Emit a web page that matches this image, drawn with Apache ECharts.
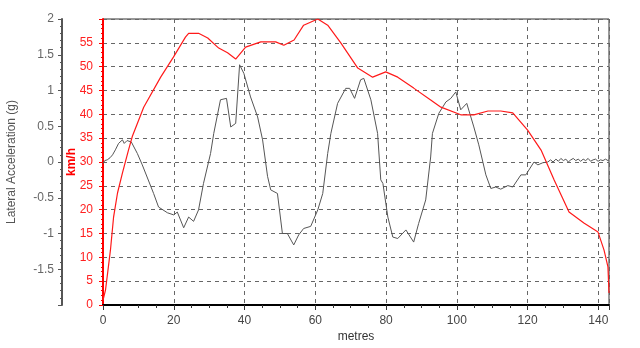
<!DOCTYPE html>
<html>
<head>
<meta charset="utf-8">
<script src="https://cdn.jsdelivr.net/npm/echarts@6/dist/echarts.min.js"></script>
<style>
  html, body { margin: 0; padding: 0; background: #fff; }
  #chart { width: 640px; height: 348px; }
</style>
</head>
<body>
<div id="chart"></div>
<script>
// speed trace (km/h) against distance (metres)
const speedDist = [0, 0.7, 1.3, 2.1, 3, 4.1, 5.5, 7.2, 8.3, 11.5, 16.3, 19.9, 23.3, 24.2, 27, 29.6,
  32.7, 35.2, 37.5, 40.3, 44.6, 48.8, 51.1, 54, 56.7, 60.7, 63.5, 67.2, 72, 76.2, 79.9, 83.3,
  87.8, 92.6, 95.5, 101.1, 104.8, 108.8, 112.4, 115.8, 120, 123.8, 127.5, 131.7, 135.9, 139.9,
  141.6, 142.7, 143];
const speedKmh = [1, 3.1, 6.7, 11.5, 18.5, 23.5, 27.7, 32.5, 35.4, 41.5, 47.8, 52, 56.2, 57, 57, 56,
  53.9, 52.9, 51.6, 54.1, 55.2, 55.2, 54.5, 55.6, 58.7, 60, 58.7, 55, 49.7, 47.8, 48.9, 47.8,
  45.5, 43, 41.5, 39.9, 39.9, 40.7, 40.7, 40.3, 36.7, 32.5, 26.2, 19.5, 17.2, 15.3,
  11.5, 8, 2.5];

// lateral acceleration (g) against distance (metres)
const latDist = [0, 0.5, 1.2, 2, 2.7, 3.5, 4.4, 5.5, 6, 6.8, 8, 9.7, 11.1, 14.3, 15.7, 18.2, 20, 21,
  22.8, 24.2, 25.6, 27, 28.4, 30.4, 31.3, 33.2, 34.9, 36.1, 37.5, 38.6, 39.8, 41.7, 43.7, 45.1,
  46.5, 47.4, 49.3, 50.7, 52.1, 53.9, 55.3, 56.7, 58.7, 60.7, 62.1, 63.5, 64.4, 66.3, 68.6, 69.7,
  71.1, 72.8, 73.7, 75.7, 77.6, 78.5, 79.1, 80.5, 81.9, 83.3, 85.6, 87.8, 89.2, 91.2, 92.6, 93.1,
  94.9, 96.9, 98.3, 99.7, 101.1, 102.8, 104.8, 106.2, 107.4, 108.2, 109.6, 111, 112.4, 114.4,
  115.8, 118.1, 119.5, 120.9, 121.8, 122.9, 124.3, 125.7, 126.5, 127.2, 128, 128.7, 129.4, 130.1,
  130.8, 131.5, 132.2, 132.9, 133.6, 134.3, 135, 135.7, 136.4, 137.1, 137.8, 138.5, 139.2, 139.9,
  140.6, 141.3, 142, 142.7, 143];
const latG = [-0.02, 0.02, 0.03, 0.06, 0.1, 0.17, 0.26, 0.31, 0.26, 0.3, 0.28, 0.12, -0.04, -0.44,
  -0.63, -0.71, -0.74, -0.7, -0.92, -0.77, -0.83, -0.67, -0.3, 0.12, 0.4, 0.87, 0.89, 0.49, 0.54,
  1.36, 1.24, 0.91, 0.63, 0.31, -0.2, -0.39, -0.44, -1, -1, -1.16, -1.02, -0.93, -0.9, -0.67,
  -0.44, 0.12, 0.4, 0.82, 1.03, 1.03, 0.89, 1.15, 1.17, 0.87, 0.4, -0.25, -0.3, -0.77, -1.05,
  -1.07, -0.95, -1.12, -0.86, -0.53, 0.07, 0.4, 0.68, 0.84, 0.89, 0.98, 0.73, 0.82, 0.49, 0.24,
  -0.01, -0.18, -0.37, -0.35, -0.38, -0.33, -0.35, -0.18, -0.18, -0.07, 0, -0.04, -0.01, 0,
  0.03, 0, 0.04, 0.01, 0.05, 0.02, 0.04, 0, 0.03, 0.05, 0.02, 0.04, 0.01, 0.04, 0.02, 0.05, 0.01,
  0.03, 0.04, 0.01, 0.03, 0.02, 0.04, 0.02, 0.03];

const speedData = speedDist.map((d, i) => [d, speedKmh[i]]);
const latData = latDist.map((d, i) => [d, latG[i]]);

const font = "'Liberation Sans', Arial, sans-serif";
const chart = echarts.init(document.getElementById('chart'));

chart.setOption({
  animation: false,
  grid: {
    left: 103, right: 31, top: 19, bottom: 43,
    outerBoundsMode: 'none',
    show: true, borderColor: '#333', borderWidth: 1
  },
  xAxis: {
    type: 'value',
    min: 0, max: 143, interval: 20,
    name: 'metres', nameLocation: 'middle', nameGap: 26, nameMoveOverlap: false,
    nameTextStyle: { color: '#333', fontSize: 12, fontFamily: font },
    axisLine: { lineStyle: { color: '#000', width: 2 } },
    axisTick: { length: 5, lineStyle: { color: '#333' } },
    minorTick: { show: true, splitNumber: 4, length: 3, lineStyle: { color: '#333' } },
    axisLabel: {
      color: '#444', fontSize: 12, fontFamily: font, margin: 10,
      formatter: v => (v % 20 === 0 ? String(v) : '')
    },
    splitLine: { show: true, lineStyle: { color: '#666', type: [4, 4], width: 1 } }
  },
  yAxis: [
    {
      type: 'value', position: 'left',
      min: 0, max: 60, interval: 5,
      name: 'km/h', nameLocation: 'middle', nameGap: 25, nameMoveOverlap: false,
      nameTextStyle: { color: '#ff0000', fontSize: 12, fontFamily: font, fontWeight: 'bold' },
      axisLine: { show: true, lineStyle: { color: '#ff0000', width: 2 } },
      axisTick: { length: 4, lineStyle: { color: '#ff0000' } },
      minorTick: { show: true, splitNumber: 5, length: 2, lineStyle: { color: '#ff0000' } },
      axisLabel: { color: '#ff2020', fontSize: 12, fontFamily: font, margin: 10, showMaxLabel: false },
      splitLine: { show: true, lineStyle: { color: '#666', type: [4, 4], width: 1 } }
    },
    {
      type: 'value', position: 'left', offset: 41,
      min: -2, max: 2, interval: 0.5,
      name: 'Lateral Acceleration (g)', nameLocation: 'middle', nameGap: 44, nameMoveOverlap: false,
      nameTextStyle: { color: '#555', fontSize: 12, fontFamily: font },
      axisLine: { show: true, lineStyle: { color: '#555', width: 2 } },
      axisTick: { length: 4, lineStyle: { color: '#555' } },
      minorTick: { show: true, splitNumber: 5, length: 2, lineStyle: { color: '#555' } },
      axisLabel: { color: '#666', fontSize: 12, fontFamily: font, margin: 8, showMinLabel: false },
      splitLine: { show: false }
    }
  ],
  series: [
    {
      name: 'Lateral Acceleration', type: 'line', yAxisIndex: 1,
      data: latData, showSymbol: false,
      lineStyle: { color: '#555', width: 1 }
    },
    {
      name: 'Speed', type: 'line', yAxisIndex: 0,
      data: speedData, showSymbol: false,
      lineStyle: { color: '#ff1a1a', width: 1.2 }
    }
  ]
});
</script>
</body>
</html>
